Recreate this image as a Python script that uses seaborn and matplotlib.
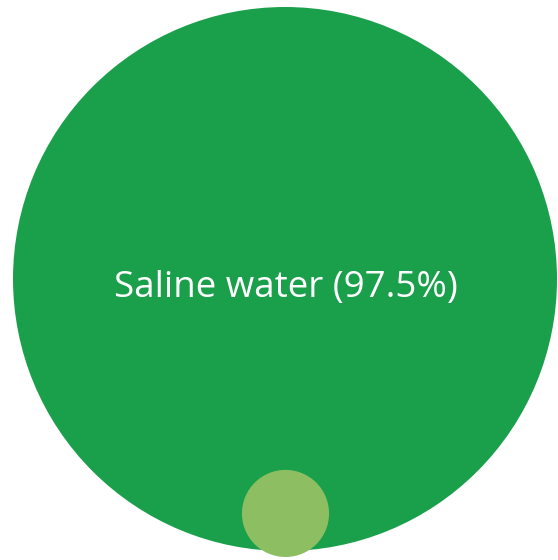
import matplotlib
matplotlib.use("Agg")
import matplotlib.pyplot as plt
import seaborn as sns
import pandas as pd
import numpy as np

# data
categories = ["Saline water", "Fresh water"]
shares = [97.5, 2.5]
colors = ["#1a9f4a", "#8dbf62"]

df = pd.DataFrame({"category": categories, "share": shares})

sns.set_theme(style="white")
plt.rcParams["font.family"] = ["Open Sans", "DejaVu Sans"]

fig = plt.figure(figsize=(5.58, 5.60), dpi=100)
ax = fig.add_axes([0, 0, 1, 1])
ax.set_xlim(0, 558)
ax.set_ylim(560, 0)
ax.axis("off")

# layout: big circle radius in px, area proportional to share
R_big = 272
cx, cy = 285, 279
radii = [R_big * np.sqrt(s / shares[0]) for s in shares]
df["x"] = [cx, cx + 0.5]
df["y"] = [cy, cy + R_big - radii[1] + 6]
px2pt = 72 / fig.dpi
df["s"] = [(2 * r * px2pt) ** 2 for r in radii]

sns.scatterplot(data=df, x="x", y="y", hue="category", palette=colors,
                size="share", sizes=(df["s"].min(), df["s"].max()),
                size_norm=(min(shares), max(shares)),
                linewidth=0, legend=False, ax=ax)

ax.text(cx + 1, 288, f"{categories[0]} ({shares[0]}%)", color="white",
        fontsize=26.5, ha="center", va="center")

fig.savefig("out.png", dpi=100)
